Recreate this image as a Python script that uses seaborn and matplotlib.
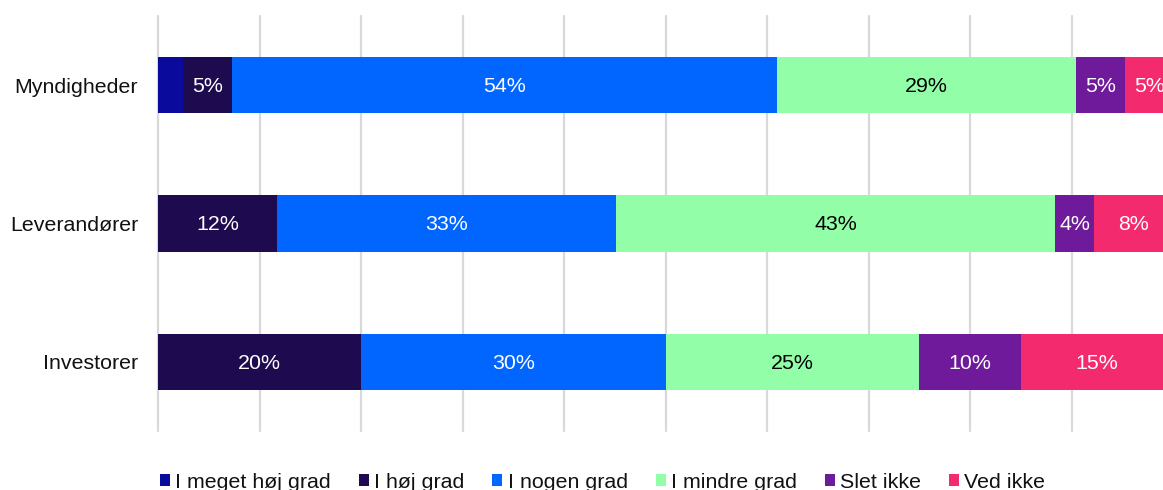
import matplotlib
matplotlib.use("Agg")
import matplotlib.pyplot as plt
from matplotlib.patches import Patch
import numpy as np
import pandas as pd
import seaborn as sns

# Survey answers per stakeholder group (share of respondents, %)
groups = ["Myndigheder", "Leverandører", "Investorer"]
answers = ["I meget høj grad", "I høj grad", "I nogen grad",
           "I mindre grad", "Slet ikke", "Ved ikke"]
meget_hoej = [2.5, 0.0, 0.0]
hoej = [4.8, 11.7, 20.0]
nogen = [53.7, 33.4, 30.0]
mindre = [29.4, 43.3, 25.0]
slet_ikke = [4.9, 3.8, 10.0]
ved_ikke = [4.7, 7.8, 15.0]

colors = ["#0a0a9c", "#1e0a4e", "#0066ff", "#92ffa8", "#6e1a9a", "#f42a6e"]
text_colors = ["white", "white", "white", "black", "white", "white"]

series = [meget_hoej, hoej, nogen, mindre, slet_ikke, ved_ikke]
vals = np.array(series)            # shape: answers x groups
cum = np.cumsum(vals, axis=0)

sns.set_theme(style="white")
plt.rcParams["font.family"] = ["Liberation Sans", "DejaVu Sans"]
FS = 15.4

W, H, DPI = 1163, 490, 100
fig = plt.figure(figsize=(W / DPI, H / DPI), dpi=DPI)
# axes spans 0..100% between x=158px and x=1173px (right edge runs past the canvas)
left_px, right_px, top_px, bot_px = 158, 1173, 16, 431
ax = fig.add_axes([left_px / W, 1 - bot_px / H,
                   (right_px - left_px) / W, (bot_px - top_px) / H])

# stacked bars: draw cumulative totals from the outermost segment inwards
for i in range(len(answers) - 1, -1, -1):
    df = pd.DataFrame({"group": groups, "value": cum[i]})
    sns.barplot(data=df, x="value", y="group", order=groups, orient="h",
                color=colors[i], width=0.406, linewidth=0, saturation=1,
                ax=ax, zorder=3)

# value labels in the middle of each segment
for i in range(len(answers)):
    for j in range(len(groups)):
        v = vals[i, j]
        if v < 3:
            continue
        x = cum[i, j] - v / 2
        ax.text(x, j + 0.01, f"{v:.0f}%", ha="center", va="center",
                color=text_colors[i], fontsize=FS, zorder=5)

ax.set_xlim(0, 100)
ax.set_ylim(2.5, -0.5)
ax.set_xticks(np.arange(0, 101, 10))
ax.xaxis.grid(True, color="#d9d9d9", linewidth=1.6, zorder=0)
for gl in ax.get_xgridlines():
    gl.set_clip_on(False)
ax.yaxis.grid(False)
ax.set_axisbelow(True)
ax.set_xticklabels([])
ax.tick_params(axis="x", length=0)
ax.tick_params(axis="y", length=0, labelsize=FS, pad=14.4, colors="#111111")
ax.set_xlabel("")
ax.set_ylabel("")
for s in ax.spines.values():
    s.set_visible(False)

handles = [Patch(facecolor=c, edgecolor="none") for c in colors]
fig.legend(handles, answers, ncol=6, loc="center",
           bbox_to_anchor=((159 + 1046) / 2 / W, 1 - 482 / H),
           frameon=False, fontsize=FS, handlelength=0.47, handleheight=0.47,
           handletextpad=0.25, columnspacing=1.3, borderpad=0, labelcolor="#111111")

fig.savefig("out.png", dpi=DPI)
